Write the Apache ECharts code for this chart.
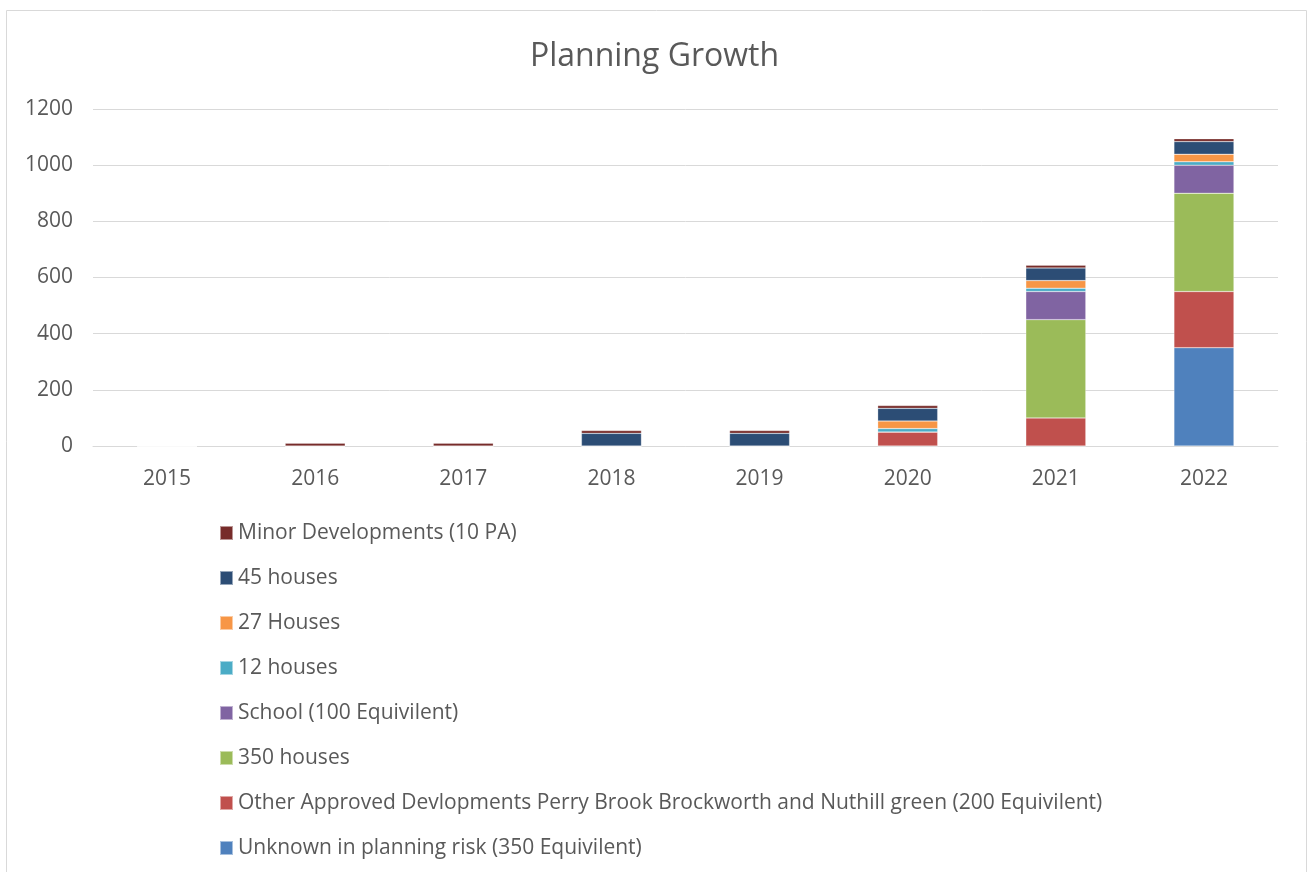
<!DOCTYPE html>
<html>
<head>
<meta charset="utf-8">
<script src="https://cdn.jsdelivr.net/npm/echarts@6/dist/echarts.min.js"></script>
<style>html,body{margin:0;padding:0;background:#fff;}#c{width:1309px;height:872px;}</style>
</head>
<body>
<div id="c"></div>
<script>
const years = ['2015','2016','2017','2018','2019','2020','2021','2022'];
const seriesNames = [
  'Unknown in planning risk (350 Equivilent)',
  'Other Approved Devlopments Perry Brook Brockworth and Nuthill green (200 Equivilent)',
  '350 houses',
  'School (100 Equivilent)',
  '12 houses',
  '27 Houses',
  '45 houses',
  'Minor Developments (10 PA)'
];
const unknownRisk = [0,0,0,0,0,0,0,350];
const otherApproved = [0,0,0,0,0,50,100,200];
const houses350 = [0,0,0,0,0,0,350,350];
const school = [0,0,0,0,0,0,100,100];
const houses12 = [0,0,0,0,0,12,12,12];
const houses27 = [0,0,0,0,0,27,27,27];
const houses45 = [0,0,0,45,45,45,45,45];
const minorDev = [0,10,10,10,10,10,10,10];
const yTicks = [0,200,400,600,800,1000,1200];
const colors = ['#4F81BD','#C0504D','#9BBB59','#8064A2','#4BACC6','#F79646','#2C4D75','#772C2A'];

const dataArr = [unknownRisk, otherApproved, houses350, school, houses12, houses27, houses45, minorDev];
const chart = echarts.init(document.getElementById('c'));
chart.setOption({
  animation: false,
  color: colors,
  graphic: [{
    type: 'rect', shape: {x: 6.5, y: 10.5, width: 1300, height: 900},
    style: {fill: 'none', stroke: '#D9D9D9', lineWidth: 1}, silent: true, z: -1
  }],
  title: {
    text: 'Planning Growth', left: 'center', top: 41, padding: 0,
    textStyle: {fontFamily: 'Open Sans', fontSize: 32, fontWeight: 'normal', color: '#595959'}
  },
  legend: {
    orient: 'vertical', left: 219, top: 522, padding: 0,
    data: seriesNames.slice().reverse(),
    icon: 'rect', itemWidth: 13, itemHeight: 14, itemGap: 23,
    textStyle: {fontFamily: 'Open Sans', fontSize: 21, color: '#595959', lineHeight: 22}
  },
  grid: {left: 93, right: 31, top: 109, height: 337, containLabel: false},
  xAxis: {
    type: 'category', data: years,
    axisLine: {lineStyle: {color: '#D9D9D9', width: 1}},
    axisTick: {show: false},
    axisLabel: {fontFamily: 'Open Sans', fontSize: 21, color: '#595959', margin: 23}
  },
  yAxis: {
    type: 'value', min: yTicks[0], max: yTicks[yTicks.length-1], interval: 200,
    axisLine: {show: false}, axisTick: {show: false},
    splitLine: {lineStyle: {color: '#D9D9D9', width: 1}},
    axisLabel: {fontFamily: 'Open Sans', fontSize: 21, color: '#595959', margin: 20,
      formatter: v => String(v)}
  },
  series: seriesNames.map((n, i) => ({
    name: n, type: 'bar', stack: 'total', data: dataArr[i],
    barWidth: 60,
    itemStyle: {borderColor: 'rgba(255,255,255,0.5)', borderWidth: 0.5}
  }))
});
</script>
</body>
</html>
